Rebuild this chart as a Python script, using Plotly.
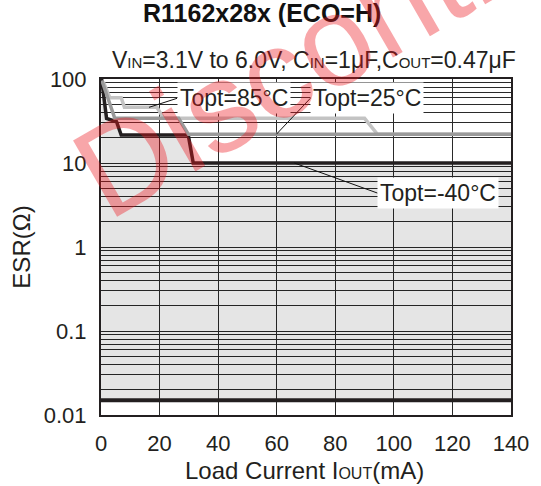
import math
import plotly.graph_objects as go

# ---- data ----
x_m40 = [0.2, 1.9, 5.3, 6.9, 29.8, 31.5, 140]
y_m40 = [100, 34, 31, 21.5, 21.5, 10, 10]

x_25 = [0.3, 4.7, 26.5, 29.8, 140]
y_25 = [96, 34, 34, 22, 22]

x_85 = [0.8, 3.0, 6.9, 8.0, 19.1, 21.4, 90, 94.4, 140]
y_85 = [92, 60, 60, 46, 46, 34, 34, 22, 22]

x_min = [0, 140]
y_min = [0.015, 0.015]

x_ticks = [0, 20, 40, 60, 80, 100, 120, 140]
y_ticks = [0.01, 0.1, 1, 10, 100]
y_ticklabels = ["0.01", "0.1", "1", "10", "100"]
y_minor = [k * 10.0 ** d for d in range(-2, 2) for k in range(2, 10)]

# label anchor points (data) for the leader lines
lbl_85 = (16.4, 46)
lbl_25 = (59.9, 22)
lbl_m40 = (66, 10)

FONT = "Liberation Sans, Arial, sans-serif"
GRID = "#2a2a2a"
INK = "#231f20"

fig = go.Figure()
fig.add_trace(go.Scatter(x=x_min, y=y_min, mode="lines",
                         line=dict(color=INK, width=4), hoverinfo="skip"))
fig.add_trace(go.Scatter(x=x_m40, y=y_m40, mode="lines", fill="tonexty",
                         fillcolor="rgba(0,0,0,0.1)",
                         line=dict(color=INK, width=3.5), hoverinfo="skip"))
fig.add_trace(go.Scatter(x=x_85, y=y_85, mode="lines",
                         line=dict(color="#c3c3c3", width=3.5), hoverinfo="skip"))
fig.add_trace(go.Scatter(x=x_25, y=y_25, mode="lines",
                         line=dict(color="#9a9a9a", width=3.5), hoverinfo="skip"))

def label(text, pt, ax, ay):
    fig.add_annotation(x=pt[0], y=math.log10(pt[1]), xref="x", yref="y", text=text,
                       showarrow=True, arrowhead=0, arrowwidth=1, arrowcolor="#111",
                       ax=ax, ay=ay, xanchor="left", yanchor="middle", bgcolor="white",
                       borderpad=2, font=dict(family=FONT, size=23, color=INK))

label("Topt=85°C", lbl_85, 28, -9)
label("Topt=25°C", lbl_25, 34, -36)
label("Topt=-40°C", lbl_m40, 83, 30)

SUB = "<span style='font-size:{}px'>{}</span>"
# title & subtitle
fig.add_annotation(x=0.393, y=1.197, xref="paper", yref="paper", xanchor="center",
                   yanchor="middle", text="<b>R1162x28x (ECO=H)</b>", showarrow=False,
                   font=dict(family=FONT, size=25, color="#111"))
sub = ("V" + SUB.format(15, "IN") + "=3.1V to 6.0V, C" + SUB.format(15, "IN") + "=1μF,C"
       + SUB.format(15, "OUT") + "=0.47μF")
fig.add_annotation(x=1.017, y=1.057, xref="paper", yref="paper", xanchor="right",
                   yanchor="middle", text=sub, showarrow=False,
                   font=dict(family=FONT, size=23, color=INK))

# axis titles
fig.add_annotation(x=0.497, y=-0.166, xref="paper", yref="paper", xanchor="center",
                   yanchor="middle", text="Load Current I" + SUB.format(16, "OUT") + "(mA)",
                   showarrow=False, font=dict(family=FONT, size=24, color=INK))
fig.add_annotation(x=-0.196, y=0.5, xref="paper", yref="paper", xanchor="center",
                   yanchor="middle", text="ESR(Ω)", textangle=-90,
                   showarrow=False, font=dict(family=FONT, size=24, color=INK))

# watermark
fig.add_annotation(x=0.744, y=1.241, xref="paper", yref="paper", text="Discontinued",
                   showarrow=False, textangle=-30, xanchor="center", yanchor="middle",
                   font=dict(family=FONT, size=128, color="rgba(237,20,30,0.38)"))

fig.update_layout(
    width=541, height=486,
    margin=dict(l=101, r=22, t=79, b=71),
    paper_bgcolor="white", plot_bgcolor="white",
    showlegend=False,
    font=dict(family=FONT, size=22, color=INK),
)
fig.update_xaxes(range=[0, 140], tickvals=x_ticks, ticks="", showgrid=True,
                 gridcolor=GRID, gridwidth=1.3, zeroline=False,
                 showline=True, mirror=True, linecolor=INK, linewidth=2,
                 tickfont=dict(size=22), ticklabelstandoff=8)
fig.update_yaxes(type="log", range=[-2, 2], tickvals=y_ticks, ticktext=y_ticklabels,
                 ticks="", showgrid=True, gridcolor=GRID, gridwidth=1.3,
                 minor=dict(tickvals=y_minor, showgrid=True, gridcolor=GRID, gridwidth=1.3),
                 zeroline=False, showline=True, mirror=True, linecolor=INK,
                 linewidth=2, tickfont=dict(size=22), ticklabelstandoff=8)

fig.write_html("out.html", config={"displayModeBar": False},
               post_script="document.body.style.margin='0';document.body.style.overflow='hidden';")
